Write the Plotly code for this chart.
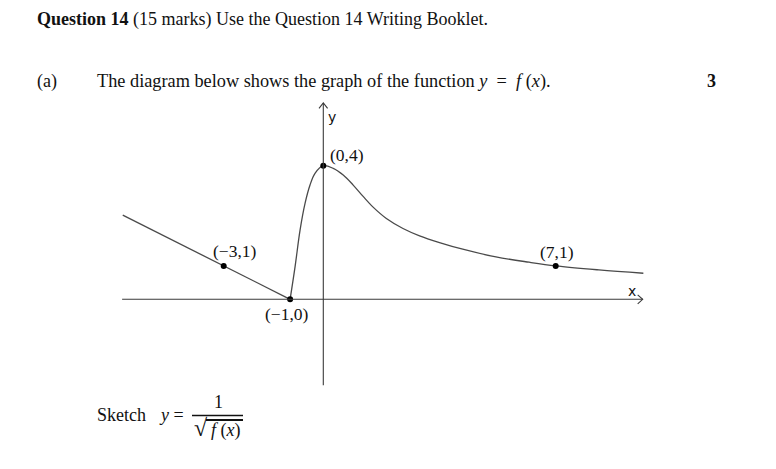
import plotly.graph_objects as go

# ---- data ----
line_x = [-6.04, -3, -1]
line_y = [2.52, 1, 0]

curve_x = [-1, -0.85, -0.70, -0.55, -0.40, -0.25, 0, 0.3, 0.6, 0.9, 1.2, 1.5, 1.9, 2.4, 2.9, 3.5, 4.2, 5.2, 6.2, 7, 8.3, 9.64]
curve_y = [0, 0.98, 2.07, 2.87, 3.42, 3.77, 4, 3.92, 3.72, 3.42, 3.08, 2.76, 2.42, 2.12, 1.90, 1.70, 1.50, 1.27, 1.11, 1.0, 0.88, 0.78]

pts_x = [-3, -1, 0, 7]
pts_y = [1, 0, 4, 1]
pts_labels = ["(−3,1)", "(−1,0)", "(0,4)", "(7,1)"]

x_axis_ext = [-6.06, 9.62]
y_axis_ext = [-2.57, 5.88]

W, H = 776, 469
XS, YS = 33.2, 33.4          # px per unit
OX, OY = 323.3, 299.3        # origin in px
xr = [-OX / XS, (W - OX) / XS]
yr = [-(H - OY) / YS, OY / YS]

serif = "Liberation Serif"
ink = "#111111"
curve_col = "#4a4a4a"
axis_col = "#3a3a3a"

fig = go.Figure()

def px(x):
    return x / W

def py(y):
    return 1 - y / H

# axes
shapes = [
    dict(type="line", xref="x", yref="y", x0=x_axis_ext[0], x1=x_axis_ext[1], y0=0, y1=0,
         line=dict(color=axis_col, width=1.1)),
    dict(type="line", xref="x", yref="y", x0=0, x1=0, y0=y_axis_ext[0], y1=y_axis_ext[1],
         line=dict(color=axis_col, width=1.1)),
]
ax_dx, ax_dy = 5 / XS, 4.5 / YS
shapes.append(dict(type="path", xref="x", yref="y",
                   path=f"M {x_axis_ext[1]-ax_dx},{ax_dy} L {x_axis_ext[1]},0 L {x_axis_ext[1]-ax_dx},{-ax_dy}",
                   line=dict(color=axis_col, width=1.1)))
ay_dx, ay_dy = 4.3 / XS, 5.5 / YS
shapes.append(dict(type="path", xref="x", yref="y",
                   path=f"M {-ay_dx},{y_axis_ext[1]-ay_dy} L 0,{y_axis_ext[1]} L {ay_dx},{y_axis_ext[1]-ay_dy}",
                   line=dict(color=axis_col, width=1.1)))

# fraction bar and sqrt vinculum
shapes.append(dict(type="line", xref="paper", yref="paper", x0=px(192), x1=px(243), y0=py(415.5), y1=py(415.5),
                   line=dict(color=ink, width=1.3)))
shapes.append(dict(type="line", xref="paper", yref="paper", x0=px(206), x1=px(243), y0=py(420), y1=py(420),
                   line=dict(color=ink, width=2.2)))

fig.add_trace(go.Scatter(x=line_x, y=line_y, mode="lines",
                         line=dict(color=curve_col, width=1.3), hoverinfo="skip"))
fig.add_trace(go.Scatter(x=curve_x, y=curve_y, mode="lines",
                         line=dict(color=curve_col, width=1.3, shape="spline", smoothing=1), hoverinfo="skip"))
fig.add_trace(go.Scatter(x=pts_x, y=pts_y, mode="markers",
                         marker=dict(color="black", size=6), hoverinfo="skip"))

ann = []
label_pos = {
    "(−3,1)": dict(xshift=11, yshift=15, xanchor="center"),
    "(−1,0)": dict(xshift=-3, yshift=-15, xanchor="center"),
    "(0,4)": dict(xshift=5, yshift=11, xanchor="left"),
    "(7,1)": dict(xshift=1, yshift=14, xanchor="center"),
}
for x, y, t in zip(pts_x, pts_y, pts_labels):
    p = label_pos[t]
    ann.append(dict(x=x, y=y, xref="x", yref="y", text=t, showarrow=False,
                    xanchor=p["xanchor"], yanchor="middle", xshift=p["xshift"], yshift=p["yshift"],
                    font=dict(family=serif, size=17.5, color=ink)))

ann.append(dict(x=px(326), y=py(117), xref="paper", yref="paper", text="y", showarrow=False,
                xanchor="left", yanchor="middle", font=dict(family="DejaVu Sans", size=14, color=ink)))
ann.append(dict(x=px(632), y=py(291), xref="paper", yref="paper", text="x", showarrow=False,
                xanchor="center", yanchor="middle", font=dict(family="DejaVu Sans", size=14, color=ink)))

def txt(x, y, t, size=18, anchor="left"):
    ann.append(dict(x=px(x), y=py(y), xref="paper", yref="paper", text=t, showarrow=False,
                    xanchor=anchor, yanchor="middle",
                    font=dict(family=serif, size=size, color=ink)))

txt(35, 20, "<b>Question 14</b> (15 marks) Use the Question 14 Writing Booklet.")
txt(35, 81, "(a)")
txt(95, 81, "The diagram below shows the graph of the function <i>y</i>  =  <i>f</i> (<i>x</i>).", size=18.3)
txt(711, 81, "<b>3</b>", anchor="center")
txt(95, 415, "Sketch")
txt(157, 415, "<i>y</i> =")
txt(218, 402, "1", anchor="center")
txt(192, 428, "√", size=24, anchor="left")
txt(226, 430, "<i>f</i> (<i>x</i>)", anchor="center")

fig.update_layout(
    width=W, height=H, margin=dict(l=0, r=0, t=0, b=0),
    paper_bgcolor="white", plot_bgcolor="white", showlegend=False,
    xaxis=dict(range=xr, visible=False, fixedrange=True),
    yaxis=dict(range=yr, visible=False, fixedrange=True),
    shapes=shapes, annotations=ann,
)
fig.write_html("out.html", config={"displayModeBar": False},
               post_script="document.body.style.margin='0';")
